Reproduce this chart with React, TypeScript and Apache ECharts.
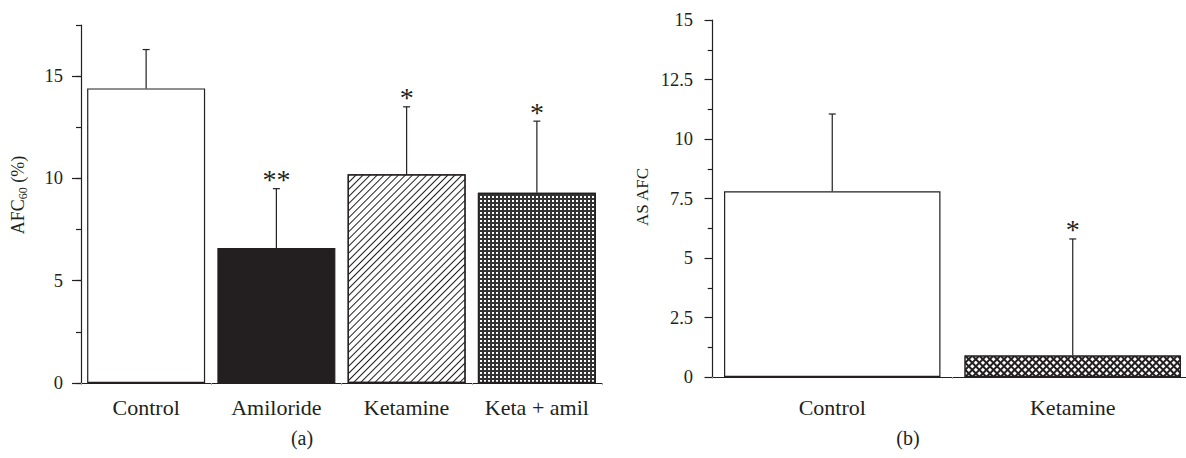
import React, { useEffect, useRef } from 'react';
import * as echarts from 'echarts';

const leftCategories = ['Control', 'Amiloride', 'Ketamine', 'Keta + amil'];
const leftMeans = [14.4, 6.6, 10.2, 9.3];
const leftErrors = [1.9, 2.9, 3.3, 3.5];
const leftMarks = ['', '**', '*', '*'];
const leftMajorTicks = [0, 5, 10, 15];

const rightCategories = ['Control', 'Ketamine'];
const rightMeans = [7.8, 0.9];
const rightErrors = [3.25, 4.9];
const rightMarks = ['', '*'];

const INK = '#231f20';
const FONT = '"Liberation Serif", "Times New Roman", serif';

const errorSeries = (means: number[], errs: number[], marks: string[], xi: number, yi: number) => ({
  type: 'custom',
  xAxisIndex: xi,
  yAxisIndex: yi,
  silent: true,
  clip: false,
  z: 5,
  data: means.map((m, i) => [i, m, m + errs[i]]),
  renderItem: (params: any, api: any) => {
    const i = api.value(0);
    const base = api.coord([i, api.value(1)]);
    const top = api.coord([i, api.value(2)]);
    const mark = marks[params.dataIndex];
    const children: any[] = [
      { type: 'line', shape: { x1: base[0], y1: base[1], x2: top[0], y2: top[1] }, style: { stroke: INK, lineWidth: 1.2 } },
      { type: 'line', shape: { x1: top[0] - 3.5, y1: top[1], x2: top[0] + 3.5, y2: top[1] }, style: { stroke: INK, lineWidth: 1.2 } },
    ];
    if (mark) {
      children.push({
        type: 'text',
        x: top[0],
        y: top[1] - 9,
        style: { text: mark, fill: INK, font: `28px ${FONT}`, align: 'center', verticalAlign: 'middle' },
      });
    }
    return { type: 'group', children };
  },
});

const leftStyles = [
  { color: '#ffffff', borderColor: INK, borderWidth: 1.2 },
  { color: INK, borderColor: INK, borderWidth: 1.2 },
  {
    color: '#ffffff', borderColor: INK, borderWidth: 1.2,
    decal: { symbol: 'rect', symbolSize: 1, dashArrayX: [1, 0], dashArrayY: [1, 3.4], rotation: -Math.PI / 4, color: INK, backgroundColor: '#ffffff' },
  },
  {
    color: '#333333', borderColor: INK, borderWidth: 1.2,
    decal: { symbol: 'rect', symbolSize: 1, dashArrayX: [1.8, 1.3], dashArrayY: [1.8, 1.3], color: '#ffffff', backgroundColor: '#333333' },
  },
];

const rightStyles = [
  { color: '#ffffff', borderColor: INK, borderWidth: 1.2 },
  {
    color: INK, borderColor: INK, borderWidth: 1.2,
    decal: { symbol: 'rect', symbolSize: 1, dashArrayX: [2.6, 1.6], dashArrayY: [2.6, 1.6], rotation: Math.PI / 4, color: '#ffffff', backgroundColor: INK },
  },
];

export default function App() {
  const ref = useRef<HTMLDivElement>(null);
  useEffect(() => {
    if (!ref.current) return;
    const chart = echarts.init(ref.current, null, { renderer: 'svg' });
    const yLabelStyle = { color: INK, fontFamily: FONT, fontSize: 18.5 };
    const xLabelStyle = { color: INK, fontFamily: FONT, fontSize: 22, interval: 0, hideOverlap: false };
    chart.setOption({
      animation: false,
      backgroundColor: '#ffffff',
      grid: [
        { left: 81, top: 25, width: 521, height: 358 },
        { left: 712, top: 20, width: 481, height: 357 },
      ],
      xAxis: [
        {
          type: 'category', gridIndex: 0, data: leftCategories,
          axisLine: { lineStyle: { color: INK, width: 1.2 } },
          axisTick: { show: true, length: 2, interval: 0, lineStyle: { color: '#aaaaaa' } },
          axisLabel: { ...xLabelStyle, margin: 13 },
        },
        {
          type: 'category', gridIndex: 1, data: rightCategories,
          axisLine: { lineStyle: { color: INK, width: 1.2 } },
          axisTick: { show: true, length: 2, interval: 0, lineStyle: { color: '#aaaaaa' } },
          axisLabel: { ...xLabelStyle, margin: 19 },
        },
      ],
      yAxis: [
        {
          type: 'value', gridIndex: 0, position: 'left', min: 0, max: 17.5, interval: 5,
          axisLine: { show: true, lineStyle: { color: INK, width: 1.2 } },
          axisTick: { show: true, length: 9, customValues: leftMajorTicks, lineStyle: { color: INK, width: 1.2 } },
          axisLabel: { ...yLabelStyle, margin: 18, customValues: leftMajorTicks },
          splitLine: { show: false },
        },
        {
          type: 'value', gridIndex: 0, position: 'left', offset: 0, min: 0, max: 17.5, interval: 2.5,
          axisLine: { show: false },
          axisTick: { show: true, length: 5, lineStyle: { color: INK, width: 1.2 } },
          axisLabel: { show: false },
          splitLine: { show: false },
        },
        {
          type: 'value', gridIndex: 1, position: 'left', min: 0, max: 15, interval: 2.5,
          axisLine: { show: true, lineStyle: { color: INK, width: 1.2 } },
          axisTick: { show: true, length: 7.5, lineStyle: { color: INK, width: 1.2 } },
          minorTick: { show: true, splitNumber: 2, length: 4.3, lineStyle: { color: INK, width: 1.2 } },
          axisLabel: { ...yLabelStyle, margin: 19 },
          splitLine: { show: false },
        },
      ],
      series: [
        {
          type: 'bar', xAxisIndex: 0, yAxisIndex: 0, barCategoryGap: '9.4%',
          data: leftMeans.map((v, i) => ({ value: v, itemStyle: leftStyles[i] })),
        },
        errorSeries(leftMeans, leftErrors, leftMarks, 0, 0),
        {
          type: 'bar', xAxisIndex: 1, yAxisIndex: 2, barCategoryGap: '10%',
          data: rightMeans.map((v, i) => ({ value: v, itemStyle: rightStyles[i] })),
        },
        errorSeries(rightMeans, rightErrors, rightMarks, 1, 2),
      ],
      graphic: [
        {
          type: 'text', x: 18, y: 195, rotation: Math.PI / 2,
          style: {
            text: '{a|AFC}{s|60}{a| (%)}',
            align: 'center', verticalAlign: 'middle',
            rich: {
              a: { fontFamily: FONT, fontSize: 18, fill: INK, lineHeight: 18, verticalAlign: 'top' },
              s: { fontFamily: FONT, fontSize: 12, fill: INK, lineHeight: 12, padding: [8, 0, 0, 0], verticalAlign: 'top' },
            },
          },
        },
        {
          type: 'text', x: 642, y: 197, rotation: Math.PI / 2,
          style: { text: 'AS AFC', font: `17px ${FONT}`, fill: INK, align: 'center', verticalAlign: 'middle' },
        },
        {
          type: 'text', x: 302, y: 438,
          style: { text: '(a)', font: `20px ${FONT}`, fill: INK, align: 'center', verticalAlign: 'middle' },
        },
        {
          type: 'text', x: 908, y: 438,
          style: { text: '(b)', font: `20px ${FONT}`, fill: INK, align: 'center', verticalAlign: 'middle' },
        },
      ],
    });
    return () => chart.dispose();
  }, []);
  return (
    <div
      ref={ref}
      style={{ position: 'fixed', left: 0, top: 0, width: 1200, height: 458, background: '#fff' }}
    />
  );
}
